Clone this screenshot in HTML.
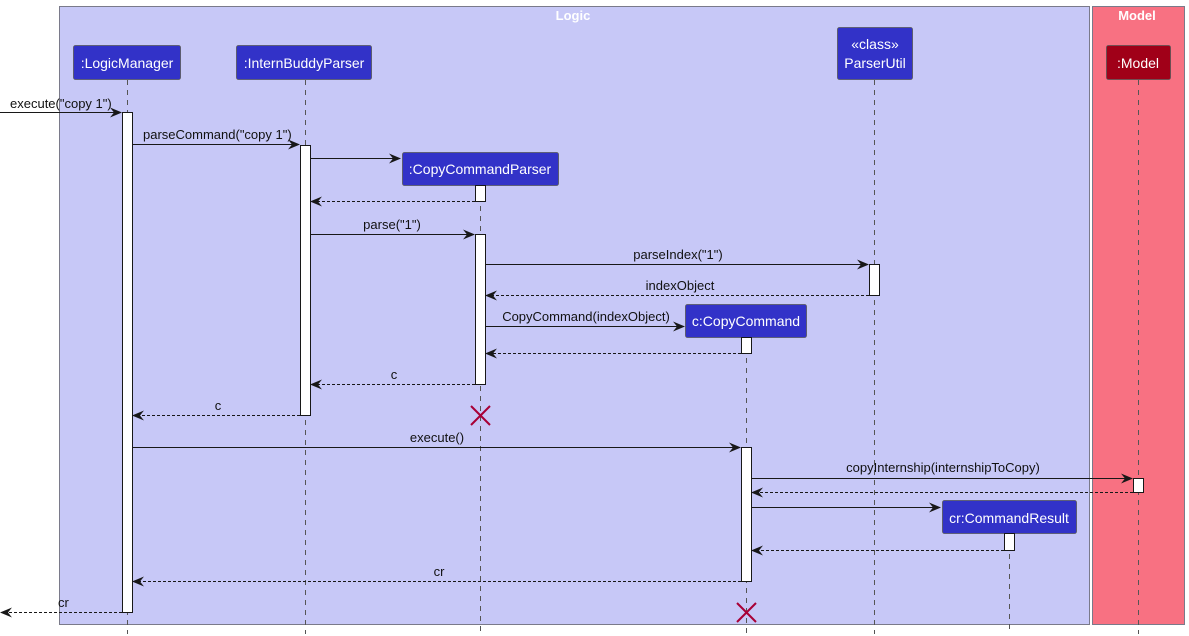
<!DOCTYPE html>
<html><head><meta charset="utf-8"><style>
html,body{margin:0;padding:0;background:#fff;}
svg{display:block;font-family:"Liberation Sans",sans-serif;}
</style></head><body>
<svg width="1189" height="636" viewBox="0 0 1189 636" xmlns="http://www.w3.org/2000/svg">
<defs>
<marker id="a" viewBox="0 0 12 10" refX="11" refY="5" markerWidth="12" markerHeight="10" markerUnits="userSpaceOnUse" orient="auto"><path d="M0,0 L12,5 L0,10 L4,5 Z" fill="#181818"/></marker>
</defs>
<rect x="59.5" y="6.5" width="1030" height="618" fill="#C7C8F7" stroke="#7a7a8a"/>
<rect x="1092.5" y="6.5" width="92" height="618" fill="#F87182" stroke="#7a7a8a"/>
<text x="573" y="20" font-size="13" font-weight="bold" fill="#fff" text-anchor="middle">Logic</text>
<text x="1137" y="20" font-size="13" font-weight="bold" fill="#fff" text-anchor="middle">Model</text>
<g stroke="#555" stroke-dasharray="5,5" stroke-width="1">
<line x1="127.5" y1="80" x2="127.5" y2="634"/>
<line x1="305.5" y1="80" x2="305.5" y2="634"/>
<line x1="480.5" y1="186" x2="480.5" y2="634"/>
<line x1="874.5" y1="80" x2="874.5" y2="634"/>
<line x1="746.5" y1="338" x2="746.5" y2="634"/>
<line x1="1009.5" y1="534" x2="1009.5" y2="634"/>
<line x1="1138.5" y1="80" x2="1138.5" y2="634"/>
</g>
<g fill="#3232C8" stroke="#555" stroke-width="0.8">
<rect x="73.5" y="45.5" width="107" height="34" rx="2"/>
<rect x="236.5" y="45.5" width="135" height="34" rx="2"/>
<rect x="837.5" y="27.5" width="75" height="52" rx="2"/>
<rect x="402.5" y="152.5" width="156" height="33" rx="2"/>
<rect x="685.5" y="304.5" width="121" height="33" rx="2"/>
<rect x="942.5" y="500.5" width="134" height="33" rx="2"/>
<rect x="1106.5" y="45.5" width="64" height="34" rx="2" fill="#A00018"/>
</g>
<g fill="#fff" font-size="14" text-anchor="middle">
<text x="127" y="68">:LogicManager</text>
<text x="304" y="68">:InternBuddyParser</text>
<text x="875" y="49">«class»</text>
<text x="875" y="68">ParserUtil</text>
<text x="480" y="174">:CopyCommandParser</text>
<text x="746" y="326">c:CopyCommand</text>
<text x="1009" y="523">cr:CommandResult</text>
<text x="1138" y="68">:Model</text>
</g>
<g fill="#fff" stroke="#181818" stroke-width="1">
<rect x="122.5" y="112.5" width="10" height="500"/>
<rect x="300.5" y="145.5" width="10" height="270"/>
<rect x="475.5" y="185.5" width="10" height="16"/>
<rect x="475.5" y="234.5" width="10" height="150"/>
<rect x="869.5" y="264.5" width="10" height="31"/>
<rect x="741.5" y="337.5" width="10" height="16"/>
<rect x="741.5" y="447.5" width="10" height="134"/>
<rect x="1004.5" y="533.5" width="10" height="17"/>
<rect x="1133.5" y="478.5" width="10" height="14"/>
</g>
<g stroke="#181818" stroke-width="1" fill="none" marker-end="url(#a)">
<line x1="0" y1="112.5" x2="121" y2="112.5"/>
<line x1="133" y1="144.5" x2="299" y2="144.5"/>
<line x1="311" y1="158.5" x2="400" y2="158.5"/>
<line x1="311" y1="234.5" x2="474" y2="234.5"/>
<line x1="486" y1="264.5" x2="868" y2="264.5"/>
<line x1="486" y1="326.5" x2="684" y2="326.5"/>
<line x1="133" y1="447.5" x2="740" y2="447.5"/>
<line x1="752" y1="478.5" x2="1132" y2="478.5"/>
<line x1="752" y1="507.5" x2="940" y2="507.5"/>
</g>
<g stroke="#181818" stroke-width="1" fill="none" stroke-dasharray="3,2" marker-end="url(#a)">
<line x1="475" y1="201.5" x2="311" y2="201.5"/>
<line x1="869" y1="295.5" x2="486" y2="295.5"/>
<line x1="741" y1="353.5" x2="486" y2="353.5"/>
<line x1="475" y1="384.5" x2="311" y2="384.5"/>
<line x1="300" y1="415.5" x2="133" y2="415.5"/>
<line x1="1133" y1="492.5" x2="752" y2="492.5"/>
<line x1="1004" y1="550.5" x2="752" y2="550.5"/>
<line x1="741" y1="581.5" x2="133" y2="581.5"/>
<line x1="122" y1="612.5" x2="1" y2="612.5"/>
</g>
<g stroke="#A80036" stroke-width="2">
<line x1="471" y1="406" x2="490" y2="425"/><line x1="490" y1="406" x2="471" y2="425"/>
<line x1="737" y1="603" x2="756" y2="622"/><line x1="756" y1="603" x2="737" y2="622"/>
</g>
<g fill="#111" font-size="13">
<text x="10" y="108">execute("copy 1")</text>
<text x="143" y="139">parseCommand("copy 1")</text>
<text x="392" y="229" text-anchor="middle">parse("1")</text>
<text x="678" y="259" text-anchor="middle">parseIndex("1")</text>
<text x="680" y="290" text-anchor="middle">indexObject</text>
<text x="586" y="321" text-anchor="middle">CopyCommand(indexObject)</text>
<text x="394" y="379" text-anchor="middle">c</text>
<text x="218" y="410" text-anchor="middle">c</text>
<text x="437" y="442" text-anchor="middle">execute()</text>
<text x="943" y="472" text-anchor="middle">copyInternship(internshipToCopy)</text>
<text x="439" y="576" text-anchor="middle">cr</text>
<text x="58" y="607">cr</text>
</g>
</svg>
</body></html>
